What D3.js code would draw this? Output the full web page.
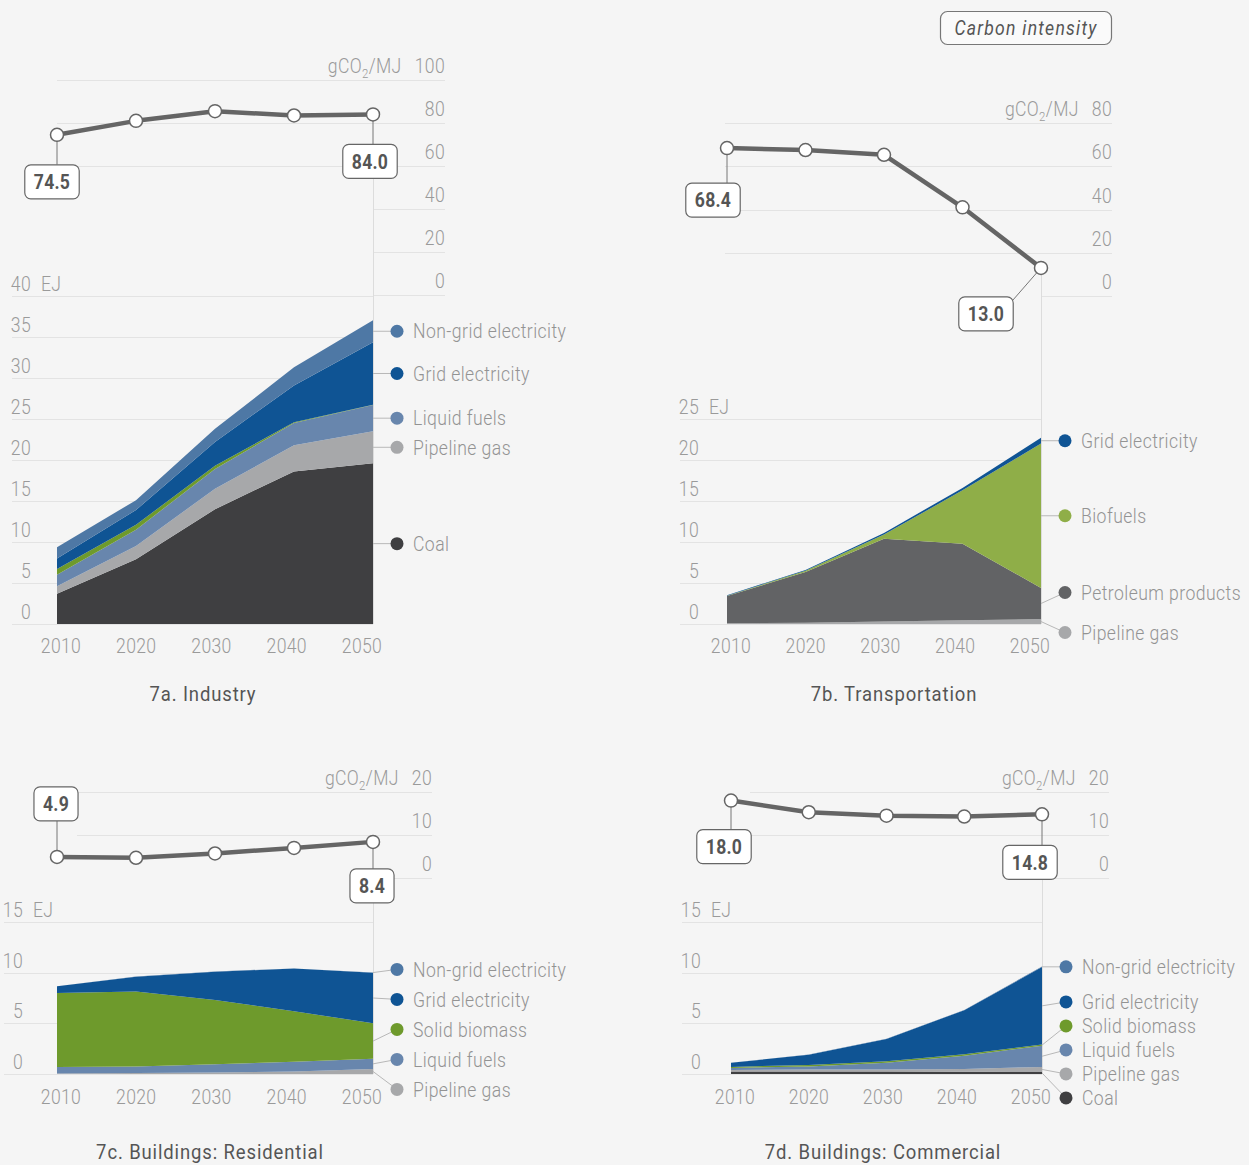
<!DOCTYPE html>
<html><head><meta charset="utf-8">
<script src="https://cdn.jsdelivr.net/npm/d3@7"></script>
<style>
html,body{margin:0;padding:0;background:#f5f5f5;}
svg{display:block;font-family:Roboto,"Liberation Sans",sans-serif;}
</style></head><body><svg id="c" width="1249" height="1165"></svg>
<script>
// ---------- DATA ----------
const years = [2010, 2020, 2030, 2040, 2050];

const industryCarbon = [74.5, 81.0, 85.5, 83.5, 84.0];
const industryCoal = [3.7, 7.9, 14.0, 18.6, 19.6];
const industryPipelineGas = [0.9, 1.6, 2.5, 3.2, 3.9];
const industryLiquidFuels = [1.4, 2.0, 2.4, 2.7, 3.2];
const industrySolidBiomass = [0.7, 0.6, 0.4, 0.1, 0.05];
const industryGridElectricity = [1.3, 1.8, 2.9, 4.5, 7.6];
const industryNonGridElectricity = [1.35, 1.2, 1.6, 2.2, 2.7];

const transportCarbon = [68.4, 67.5, 65.3, 41.0, 13.0];
const transportPipelineGas = [0.1, 0.15, 0.3, 0.45, 0.6];
const transportPetroleum = [3.3, 6.2, 10.1, 9.35, 3.8];
const transportBiofuels = [0.05, 0.15, 0.5, 6.5, 17.6];
const transportGridElectricity = [0.05, 0.1, 0.2, 0.3, 0.7];

const residentialCarbon = [4.9, 4.7, 5.7, 7.0, 8.4];
const residentialPipelineGas = [0.05, 0.1, 0.15, 0.25, 0.5];
const residentialLiquidFuels = [0.65, 0.65, 0.8, 0.95, 1.0];
const residentialSolidBiomass = [7.3, 7.4, 6.35, 5.0, 3.5];
const residentialGridElectricity = [0.65, 1.45, 2.8, 4.2, 5.0];
const residentialNonGridElectricity = [0.02, 0.02, 0.02, 0.02, 0.02];

const commercialCarbon = [18.0, 15.3, 14.5, 14.3, 14.8];
const commercialCoal = [0.25, 0.25, 0.25, 0.22, 0.2];
const commercialPipelineGas = [0.15, 0.2, 0.2, 0.28, 0.5];
const commercialLiquidFuels = [0.2, 0.3, 0.65, 1.3, 2.1];
const commercialSolidBiomass = [0.1, 0.15, 0.15, 0.15, 0.1];
const commercialGridElectricity = [0.4, 1.0, 2.2, 4.35, 7.65];
const commercialNonGridElectricity = [0.02, 0.02, 0.02, 0.02, 0.05];

const industryEJTicks = [0, 5, 10, 15, 20, 25, 30, 35, 40];
const transportEJTicks = [0, 5, 10, 15, 20, 25];
const buildingsEJTicks = [0, 5, 10, 15];
const industryCarbonTicks = [0, 20, 40, 60, 80, 100];
const transportCarbonTicks = [0, 20, 40, 60, 80];
const buildingsCarbonTicks = [0, 10, 20];

const titles = ["7a. Industry", "7b. Transportation", "7c. Buildings: Residential", "7d. Buildings: Commercial"];

// ---------- STYLE ----------
const C = {
  coal: "#3f3f41", gas: "#a7a8aa", liquid: "#6886ad", biomass: "#6e9a2c",
  grid: "#0f5494", nongrid: "#4e78a5", petroleum: "#626365", biofuels: "#8fae48"
};

const panels = [
  { title: titles[0], carbon: industryCarbon,
    series: [
      {v: industryCoal, c: C.coal, label: "Coal"},
      {v: industryPipelineGas, c: C.gas, label: "Pipeline gas"},
      {v: industryLiquidFuels, c: C.liquid, label: "Liquid fuels"},
      {v: industrySolidBiomass, c: C.biomass, label: null},
      {v: industryGridElectricity, c: C.grid, label: "Grid electricity"},
      {v: industryNonGridElectricity, c: C.nongrid, label: "Non-grid electricity"}],
    x0: 57, x1: 373, ejBase: 624, ejTop: 296, ejMax: 40, ejTicks: industryEJTicks, gridStart: 12,
    cBase: 295, cTop: 80, cMax: 100, cTicks: industryCarbonTicks, cRight: 445, cGridStart: 57, cHide: 40,
    titleX: 203, titleY: 701, tickY: 653, legendGap: 28,
    startLbl: {dx: -5, dy: 47}, endLbl: {dx: -3, dy: 47} },
  { title: titles[1], carbon: transportCarbon,
    series: [
      {v: transportPipelineGas, c: C.gas, label: "Pipeline gas"},
      {v: transportPetroleum, c: C.petroleum, label: "Petroleum products"},
      {v: transportBiofuels, c: C.biofuels, label: "Biofuels"},
      {v: transportGridElectricity, c: C.grid, label: "Grid electricity"}],
    x0: 727, x1: 1041, ejBase: 624, ejTop: 419, ejMax: 25, ejTicks: transportEJTicks, gridStart: 680,
    cBase: 296, cTop: 123, cMax: 80, cTicks: transportCarbonTicks, cRight: 1112, cGridStart: 725, cHide: 0,
    titleX: 894, titleY: 701, tickY: 653, legendGap: 40,
    startLbl: {dx: -14, dy: 52}, endLbl: {dx: -55, dy: 46, diag: true} },
  { title: titles[2], carbon: residentialCarbon,
    series: [
      {v: residentialPipelineGas, c: C.gas, label: "Pipeline gas"},
      {v: residentialLiquidFuels, c: C.liquid, label: "Liquid fuels"},
      {v: residentialSolidBiomass, c: C.biomass, label: "Solid biomass"},
      {v: residentialGridElectricity, c: C.grid, label: "Grid electricity"},
      {v: residentialNonGridElectricity, c: C.nongrid, label: "Non-grid electricity"}],
    x0: 57, x1: 373, ejBase: 1074, ejTop: 922, ejMax: 15, ejTicks: buildingsEJTicks, gridStart: 4,
    cBase: 878, cTop: 792, cMax: 20, cTicks: buildingsCarbonTicks, cRight: 432, cGridStart: 77, cHide: 0,
    titleX: 210, titleY: 1159, tickY: 1104, legendGap: 30,
    startLbl: {dx: -1, dy: -53}, endLbl: {dx: -1, dy: 44} },
  { title: titles[3], carbon: commercialCarbon,
    series: [
      {v: commercialCoal, c: C.coal, label: "Coal"},
      {v: commercialPipelineGas, c: C.gas, label: "Pipeline gas"},
      {v: commercialLiquidFuels, c: C.liquid, label: "Liquid fuels"},
      {v: commercialSolidBiomass, c: C.biomass, label: "Solid biomass"},
      {v: commercialGridElectricity, c: C.grid, label: "Grid electricity"},
      {v: commercialNonGridElectricity, c: C.nongrid, label: "Non-grid electricity"}],
    x0: 731, x1: 1042, ejBase: 1074, ejTop: 922, ejMax: 15, ejTicks: buildingsEJTicks, gridStart: 682,
    cBase: 878, cTop: 792, cMax: 20, cTicks: buildingsCarbonTicks, cRight: 1109, cGridStart: 750, cHide: 0,
    titleX: 883, titleY: 1159, tickY: 1104, legendGap: 24,
    startLbl: {dx: -7, dy: 46}, endLbl: {dx: -12, dy: 48} }
];

const svg = d3.select("#c");
svg.append("rect").attr("width", 1249).attr("height", 1165).attr("fill", "#f5f5f5");

const GRID = "#e3e3e3", TICK = "#9a9a9a", DARK = "#555";
const SX = 0.88; // horizontal condensing of the text face

// condensed text helper
function T(g, x, y, s, o = {}) {
  const t = g.append("text")
    .attr("transform", `translate(${x},${y}) scale(${SX},1)`)
    .attr("text-anchor", o.anchor || "start")
    .attr("font-size", o.size || 20)
    .attr("font-weight", o.weight || 300)
    .attr("letter-spacing", o.ls == null ? 0.4 : o.ls)
    .attr("fill", o.fill || TICK);
  if (o.italic) t.attr("font-style", "italic");
  if (o.dy) t.attr("dy", o.dy);
  if (s != null) t.text(s);
  return t;
}
function measure(g, s, o) {
  const t = T(g, 0, 0, s, o).attr("opacity", 0);
  const w = t.node().getComputedTextLength() * SX; t.remove(); return w;
}

function resolve(items, gap) {
  let cl = items.map(it => ({items: [it]}));
  const center = c => d3.mean(c.items, d => d.target);
  let changed = true;
  while (changed) {
    changed = false;
    for (let i = 0; i < cl.length - 1; i++) {
      const a = cl[i], b = cl[i + 1];
      const aB = center(a) + (a.items.length - 1) * gap / 2;
      const bT = center(b) - (b.items.length - 1) * gap / 2;
      if (bT - aB < gap) { a.items = a.items.concat(b.items); cl.splice(i + 1, 1); changed = true; break; }
    }
  }
  cl.forEach(c => { const m = center(c); c.items.forEach((it, k) => it.pos = m - (c.items.length - 1) * gap / 2 + k * gap); });
}

panels.forEach(p => {
  const g = svg.append("g");
  const dom = [years[0], years[years.length - 1]];
  const x = d3.scaleLinear().domain(dom).range([p.x0, p.x1]);
  const xt = d3.scaleLinear().domain(dom).range([p.x0 + 4, p.x1 - 11]);
  const y = d3.scaleLinear().domain([0, p.ejMax]).range([p.ejBase, p.ejTop]);
  const cy = d3.scaleLinear().domain([0, p.cMax]).range([p.cBase, p.cTop]);

  // carbon grid + ticks
  p.cTicks.forEach(t => {
    const yy = Math.round(cy(t)) + 0.5;
    g.append("line").attr("x1", t <= p.cHide ? p.x1 : p.cGridStart).attr("x2", p.cRight)
      .attr("y1", yy).attr("y2", yy).attr("stroke", GRID).attr("stroke-width", 1);
    T(g, p.cRight, yy - 8, t, {anchor: "end"});
  });
  const tw = measure(g, String(p.cMax), {});
  const u = T(g, p.cRight - tw - 13, Math.round(cy(p.cMax)) - 7.5, null, {anchor: "end"});
  u.append("tspan").text("gCO");
  u.append("tspan").attr("dy", 5).attr("font-size", 13).text("2");
  u.append("tspan").attr("dy", -5).text("/MJ");

  // EJ grid + ticks
  p.ejTicks.forEach(t => {
    const yy = Math.round(y(t)) + 0.5;
    g.append("line").attr("x1", p.gridStart).attr("x2", p.x1).attr("y1", yy).attr("y2", yy)
      .attr("stroke", GRID).attr("stroke-width", 1);
    T(g, p.gridStart + 19, yy - 6, t, {anchor: "end"});
  });
  T(g, p.gridStart + 29, Math.round(y(p.ejMax)) - 5.5, "EJ", {});

  // x ticks
  years.forEach(yr => T(g, xt(yr), p.tickY, yr, {anchor: "middle"}));

  // right vertical axis line
  const last = years.length - 1;
  const endPy = cy(p.carbon[last]);
  const endBoxBottom = p.endLbl.diag ? endPy : endPy + p.endLbl.dy + 17;
  g.append("line").attr("x1", p.x1 + 0.5).attr("x2", p.x1 + 0.5).attr("y1", endBoxBottom).attr("y2", p.ejBase)
    .attr("stroke", "#dcdcdc").attr("stroke-width", 1);

  // stacked areas
  const stack = d3.stack().keys(p.series.map((s, i) => i)).value((d, k) => p.series[k].v[d]);
  const layers = stack(d3.range(years.length));
  const area = d3.area().x(d => x(years[d.data])).y0(d => y(d[0])).y1(d => y(d[1]));
  layers.forEach((L, i) => {
    g.append("path").datum(L).attr("d", area).attr("fill", p.series[i].c);
  });

  // legend
  const items = layers.map((L, i) => ({s: p.series[i], target: y((L[last][0] + L[last][1]) / 2)}))
    .filter(d => d.s.label).sort((a, b) => a.target - b.target);
  resolve(items, p.legendGap);
  items.forEach(it => {
    const dotX = p.x1 + 24;
    g.append("line").attr("x1", p.x1).attr("y1", it.target).attr("x2", dotX).attr("y2", it.pos)
      .attr("stroke", "#b8b8b8").attr("stroke-width", 1);
    g.append("circle").attr("cx", dotX).attr("cy", it.pos).attr("r", 6.5).attr("fill", it.s.c);
    T(g, p.x1 + 40, it.pos, it.s.label, {dy: "0.36em", ls: 0.5, fill: "#939393"});
  });

  // carbon intensity line + value labels
  const boxes = [];
  [[0, p.startLbl], [last, p.endLbl]].forEach(([i, cfg]) => {
    const px = x(years[i]), py = cy(p.carbon[i]);
    boxes.push({i, cfg, px, py, bx: px + cfg.dx, by: py + cfg.dy, s: d3.format(".1f")(p.carbon[i])});
  });
  const bh = 34;
  const bOpt = {anchor: "middle", weight: 700, ls: 0.3, fill: DARK, dy: "0.36em"};
  boxes.forEach(b => {
    b.w = measure(g, b.s, bOpt) + 18;
    if (b.cfg.diag) {
      g.append("line").attr("x1", b.px).attr("y1", b.py).attr("x2", b.bx + b.w / 2 - 1).attr("y2", b.by - bh / 2 + 4)
        .attr("stroke", "#777").attr("stroke-width", 1);
    } else {
      g.append("line").attr("x1", b.px).attr("x2", b.px).attr("y1", b.py)
        .attr("y2", b.cfg.dy > 0 ? b.by - bh / 2 : b.by + bh / 2).attr("stroke", "#777").attr("stroke-width", 1);
    }
  });
  const line = d3.line().x((d, i) => x(years[i])).y(d => cy(d));
  g.append("path").datum(p.carbon).attr("d", line).attr("fill", "none").attr("stroke", "#656565")
    .attr("stroke-width", 4.5).attr("stroke-linejoin", "round");
  p.carbon.forEach((v, i) => {
    g.append("circle").attr("cx", x(years[i])).attr("cy", cy(v)).attr("r", 6.5)
      .attr("fill", "#fff").attr("stroke", "#656565").attr("stroke-width", 1.5);
  });
  boxes.forEach(b => {
    g.append("rect").attr("x", b.bx - b.w / 2).attr("y", b.by - bh / 2).attr("width", b.w).attr("height", bh)
      .attr("rx", 6).attr("fill", "#fff").attr("stroke", "#666").attr("stroke-width", 1.2);
    T(g, b.bx, b.by, b.s, bOpt);
  });

  // title
  T(g, p.titleX, p.titleY, p.title, {anchor: "middle", size: 21, weight: 400, ls: 1.0, fill: DARK});
});

// Carbon intensity key box
const kb = svg.append("g");
kb.append("rect").attr("x", 940.5).attr("y", 11.5).attr("width", 171).attr("height", 33).attr("rx", 7)
  .attr("fill", "#fafafa").attr("stroke", "#777").attr("stroke-width", 1.2);
T(kb, 1026, 28, "Carbon intensity", {anchor: "middle", italic: true, weight: 400, ls: 1.4, fill: DARK, dy: "0.36em"});
</script></body></html>
